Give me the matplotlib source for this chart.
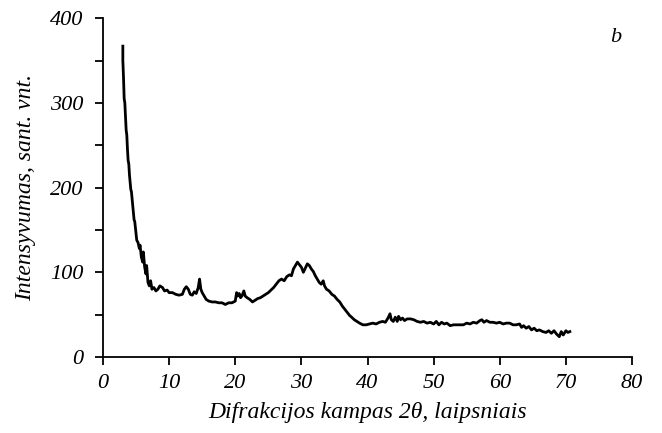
import numpy as np
import matplotlib
matplotlib.use('Agg')
import matplotlib.pyplot as plt
from matplotlib.ticker import MultipleLocator

# Diffraction angle 2theta (deg) and intensity
two_theta = [3.0, 3.0, 3.1, 3.2, 3.3, 3.4, 3.5, 3.6, 3.7, 3.8, 3.9, 4.0, 4.2, 4.3, 4.5,
             4.7, 4.8, 5.0, 5.1, 5.3, 5.5, 5.6, 5.8, 6.0, 6.1, 6.3, 6.5, 6.6, 6.8, 7.0,
             7.2, 7.4, 7.7, 8.0, 8.3, 8.6, 9.0, 9.3, 9.7, 10.0, 10.5, 11.0, 11.5, 12.0,
             12.3, 12.6, 12.9, 13.2, 13.5, 13.8, 14.1, 14.4, 14.6, 14.8, 15.0, 15.3,
             15.6, 16.0, 16.5, 17.0, 17.5, 18.0, 18.5, 19.0, 19.5, 20.0, 20.2, 20.4,
             20.6, 20.8, 21.0, 21.3, 21.5, 21.8, 22.2, 22.6, 23.0, 23.4, 23.8, 24.2,
             24.6, 25.0, 25.4, 25.8, 26.2, 26.6, 27.0, 27.4, 27.8, 28.2, 28.5, 28.8,
             29.1, 29.4, 29.7, 30.0, 30.3, 30.6, 30.9, 31.2, 31.5, 31.8, 32.1, 32.4,
             32.7, 33.0, 33.3, 33.5, 33.8, 34.2, 34.6, 35.0, 35.4, 35.8, 36.2, 36.6,
             37.0, 37.3, 37.6, 38.0, 38.4, 38.8, 39.3, 39.8, 40.3, 40.8, 41.3, 41.8,
             42.3, 42.7, 43.1, 43.4, 43.6, 43.9, 44.2, 44.5, 44.7, 45.0, 45.3, 45.6,
             46.0, 46.5, 47.0, 47.5, 48.0, 48.5, 49.0, 49.5, 50.0, 50.4, 50.8, 51.2,
             51.6, 52.0, 52.5, 53.0, 53.5, 54.0, 54.5, 55.0, 55.5, 56.0, 56.5, 57.0,
             57.3, 57.6, 58.0, 58.5, 59.0, 59.5, 60.0, 60.5, 61.0, 61.5, 62.0, 62.5,
             63.0, 63.3, 63.6, 64.0, 64.4, 64.8, 65.2, 65.6, 66.0, 66.5, 67.0, 67.4,
             67.8, 68.2, 68.6, 69.0, 69.3, 69.6, 70.0, 70.3, 70.6]
intensity = [367, 350, 330, 305, 300, 285, 268, 262, 245, 232, 228, 215, 198, 195, 178,
             162, 160, 145, 138, 135, 128, 132, 118, 112, 124, 106, 98, 108, 88, 84,
             90, 80, 82, 78, 80, 84, 82, 78, 79, 76, 76, 74, 73, 74,
             80, 83, 80, 74, 73, 77, 75, 82, 92, 80, 76, 72,
             68, 66, 65, 65, 64, 64, 62, 64, 64, 66, 76, 72,
             75, 70, 72, 78, 72, 70, 68, 65, 67, 69, 70, 72,
             74, 76, 79, 82, 86, 90, 92, 90, 95, 97, 96, 104,
             108, 112, 109, 106, 100, 105, 110, 108, 104, 101, 96, 92,
             88, 86, 90, 84, 80, 78, 74, 72, 68, 65, 60, 56,
             52, 49, 47, 44, 42, 40, 38, 38, 39, 40, 39, 41,
             42, 41, 46, 51, 44, 42, 47, 42, 48, 44, 46, 43,
             45, 45, 44, 42, 41, 42, 40, 41, 39, 42, 38, 41,
             39, 40, 37, 38, 38, 38, 38, 40, 39, 41, 40, 43,
             44, 41, 43, 41, 41, 40, 41, 39, 40, 40, 38, 38,
             39, 35, 37, 34, 36, 32, 34, 31, 32, 30, 29, 31,
             28, 31, 27, 24, 30, 26, 31, 29, 30]

x_ticks = [0, 10, 20, 30, 40, 50, 60, 70, 80]
y_ticks = [0, 100, 200, 300, 400]

plt.rcParams['font.family'] = ['Liberation Serif', 'DejaVu Serif']
plt.rcParams['font.style'] = 'italic'
plt.rcParams['font.size'] = 16

fig = plt.figure(figsize=(6.62, 4.33), dpi=100)
ax = fig.add_axes([0.1556, 0.1755, 0.7991, 0.7825])

ax.plot(two_theta, intensity, color='black', linewidth=2.0)

ax.set_xlim(0, 80)
ax.set_ylim(0, 400)
ax.set_xticks(x_ticks)
ax.set_yticks(y_ticks)
ax.yaxis.set_minor_locator(MultipleLocator(50))
ax.tick_params(which='both', direction='out', length=6, width=1.3, color='black')
ax.tick_params(axis='y', pad=8)
ax.tick_params(axis='x', pad=6)

for side in ['top', 'right']:
    ax.spines[side].set_visible(False)
for side in ['left', 'bottom']:
    ax.spines[side].set_linewidth(1.3)

ax.set_xlabel('Difrakcijos kampas 2θ, laipsniais', fontsize=17, labelpad=7)
ax.set_ylabel('Intensyvumas, sant. vnt.', fontsize=17, labelpad=10)
ax.text(77.5, 377, 'b', fontsize=16, ha='center', va='center')

fig.savefig('out.png', dpi=100)
